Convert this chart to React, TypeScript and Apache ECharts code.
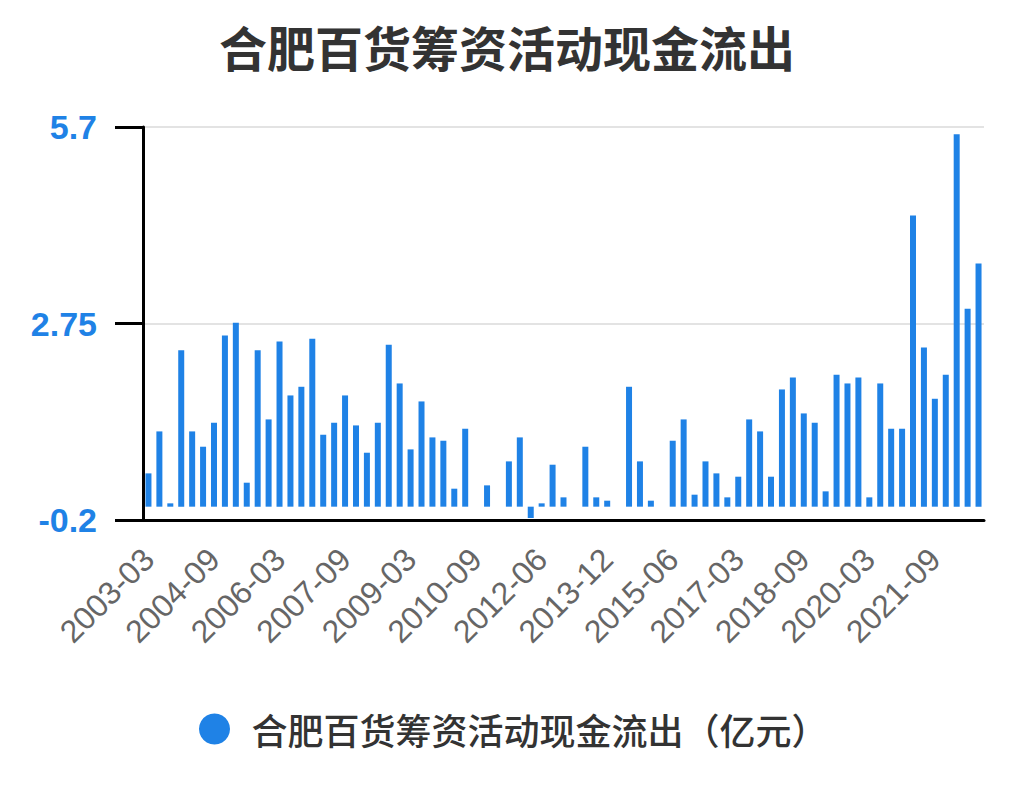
import { useEffect, useRef } from "react";
import * as echarts from "echarts";

const title = "合肥百货筹资活动现金流出";
const seriesName = "合肥百货筹资活动现金流出（亿元）";

const quarters = [
  "2003-03", "2003-06", "2003-09", "2003-12", "2004-03", "2004-06",
  "2004-09", "2004-12", "2005-03", "2005-06", "2005-09", "2005-12",
  "2006-03", "2006-06", "2006-09", "2006-12", "2007-03", "2007-06",
  "2007-09", "2007-12", "2008-03", "2008-06", "2008-09", "2008-12",
  "2009-03", "2009-06", "2009-09", "2009-12", "2010-03", "2010-06",
  "2010-09", "2010-12", "2011-03", "2011-06", "2011-09", "2011-12",
  "2012-06", "2012-09", "2012-12", "2013-03", "2013-06", "2013-09",
  "2013-12", "2014-03", "2014-06", "2014-09", "2014-12", "2015-03",
  "2015-06", "2015-09", "2015-12", "2016-03", "2016-06", "2016-09",
  "2017-03", "2017-06", "2017-09", "2017-12", "2018-03", "2018-06",
  "2018-09", "2018-12", "2019-03", "2019-06", "2019-09", "2019-12",
  "2020-03", "2020-06", "2020-09", "2020-12", "2021-03", "2021-06",
  "2021-09", "2021-12", "2022-03", "2022-06", "2022-09",
];

// 亿元, null = no report for that quarter
const outflow: (number | null)[] = [
  0.5, 1.13, 0.05, 2.35, 1.13, 0.9,
  1.26, 2.57, 2.76, 0.36, 2.35, 1.31,
  2.48, 1.67, 1.8, 2.52, 1.08, 1.26,
  1.67, 1.22, 0.81, 1.26, 2.43, 1.85,
  0.86, 1.58, 1.04, 0.99, 0.27, 1.17,
  null, 0.32, null, 0.68, 1.04, -0.17,
  0.05, 0.63, 0.14, null, 0.9, 0.14,
  0.09, null, 1.8, 0.68, 0.09, null,
  0.99, 1.31, 0.18, 0.68, 0.5, 0.14,
  0.45, 1.31, 1.13, 0.45, 1.76, 1.94,
  1.4, 1.26, 0.23, 1.98, 1.85, 1.94,
  0.14, 1.85, 1.17, 1.17, 4.37, 2.39,
  1.62, 1.98, 5.59, 2.97, 3.65,
];

const yMin = -0.2;
const yMax = 5.7;
const yStep = 2.95;

const blue = "#1f82e6";
const latin = "'Liberation Sans', 'Noto Sans CJK SC', sans-serif";
const cjk = "'Noto Sans CJK SC', sans-serif";

export default function App() {
  const ref = useRef<HTMLDivElement | null>(null);

  useEffect(() => {
    if (!ref.current) return;
    const chart = echarts.init(ref.current, null, { renderer: "svg" });
    chart.setOption({
      animation: false,
      backgroundColor: "#fff",
      title: {
        text: title,
        left: "center",
        top: 17,
        textStyle: { color: "#333", fontSize: 48, fontWeight: "bold", fontFamily: cjk },
      },
      legend: {
        left: 194,
        top: 706,
        icon: "circle",
        itemWidth: 64,
        itemHeight: 31,
        textStyle: { color: "#333", fontSize: 36, fontWeight: 500, fontFamily: cjk },
        data: [seriesName],
      },
      grid: { left: 143, right: 30, top: 127, bottom: 290, containLabel: false },
      xAxis: {
        type: "category",
        data: quarters,
        axisLine: { onZero: false, lineStyle: { color: "#000", width: 3 } },
        axisTick: { alignWithLabel: true, interval: 5, length: 27, lineStyle: { color: "#000", width: 3 } },
        axisLabel: {
          interval: 5,
          rotate: 45,
          margin: 34,
          color: "#666",
          fontSize: 32,
          fontFamily: latin,
        },
      },
      yAxis: {
        type: "value",
        min: yMin,
        max: yMax,
        interval: yStep,
        axisLine: { show: true, lineStyle: { color: "#000", width: 3 } },
        axisTick: { show: true, length: 28, lineStyle: { color: "#000", width: 3 } },
        axisLabel: {
          margin: 46,
          color: blue,
          fontSize: 34,
          fontWeight: "bold",
          fontFamily: latin,
        },
        splitLine: { lineStyle: { color: "#e3e3e3", width: 2 } },
      },
      series: [
        {
          name: seriesName,
          type: "bar",
          data: outflow,
          barWidth: 6,
          itemStyle: { color: blue },
        },
      ],
    });
    return () => chart.dispose();
  }, []);

  return (
    <div
      ref={ref}
      style={{ position: "absolute", left: 0, top: 0, width: 1014, height: 810 }}
    />
  );
}
